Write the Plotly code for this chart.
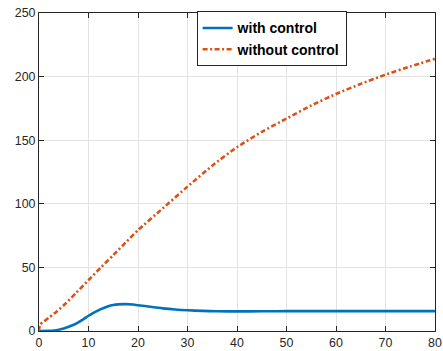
import plotly.graph_objects as go

# Response without control (time, value)
t_without = [0, 0.2, 1, 2, 3, 5, 7.5, 10, 12.5, 15, 17.5, 20, 25, 30, 35, 40,
             45, 50, 55, 60, 65, 70, 75, 80]
y_without = [0, 5.0, 7.5, 10.5, 13.5, 20.2, 30.0, 40.0, 50.0, 59.6, 69.5, 79.3,
             96.4, 113.5, 130.0, 144.5, 156.5, 167.0, 177.3, 186.3, 194.3,
             201.5, 208.0, 214.0]

# Response with control (time, value)
t_with = [0, 2, 3, 4, 5, 6, 7.5, 9, 10, 11, 12.5, 14, 15, 16, 17.5, 19, 20,
          22.5, 25, 27.5, 30, 33, 36, 40, 45, 50, 60, 70, 80]
y_with = [0, 0.1, 0.4, 1.0, 1.9, 3.3, 5.8, 9.3, 12.0, 14.3, 17.2, 19.5, 20.4,
          20.9, 21.1, 20.8, 20.3, 19.0, 17.8, 16.9, 16.3, 15.8, 15.5, 15.4,
          15.5, 15.6, 15.6, 15.6, 15.6]

x_ticks = [0, 10, 20, 30, 40, 50, 60, 70, 80]
y_ticks = [0, 50, 100, 150, 200, 250]

BLUE = "#0072BD"
ORANGE = "#D95319"
AXIS = "#262626"
GRID = "#e3e3e3"

fig = go.Figure()
fig.add_trace(go.Scatter(
    x=t_with, y=y_with, mode="lines", name="with control",
    line=dict(color=BLUE, width=2.6, shape="spline", smoothing=0.8),
))
fig.add_trace(go.Scatter(
    x=t_without, y=y_without, mode="lines", name="without control",
    line=dict(color=ORANGE, width=2.6, dash="5px,2.5px,2px,2.5px",
              shape="spline", smoothing=0.6),
))

axis_common = dict(
    showline=True, linecolor=AXIS, linewidth=1, mirror="allticks",
    ticks="inside", ticklen=5, tickwidth=1, tickcolor=AXIS,
    showgrid=True, gridcolor=GRID, gridwidth=1, zeroline=False,
    ticklabeloverflow="allow",
    tickfont=dict(family="Liberation Sans, Arial, sans-serif", size=12.4,
                  color=AXIS),
)

fig.update_xaxes(range=[0, 80], tickvals=x_ticks, **axis_common)
fig.update_yaxes(range=[0, 250], tickvals=y_ticks, **axis_common)

fig.update_layout(
    width=443, height=351,
    margin=dict(l=39, r=1, t=13, b=20),
    plot_bgcolor="white", paper_bgcolor="white",
    showlegend=True,
    legend=dict(
        x=0.398, y=1.005, xanchor="left", yanchor="top",
        bgcolor="white", bordercolor=AXIS, borderwidth=1,
        font=dict(family="Liberation Sans, Arial, sans-serif", size=14,
                  color="black", weight="bold"),
        tracegroupgap=0, itemwidth=30,
    ),
)

fig.write_html("out.html")
